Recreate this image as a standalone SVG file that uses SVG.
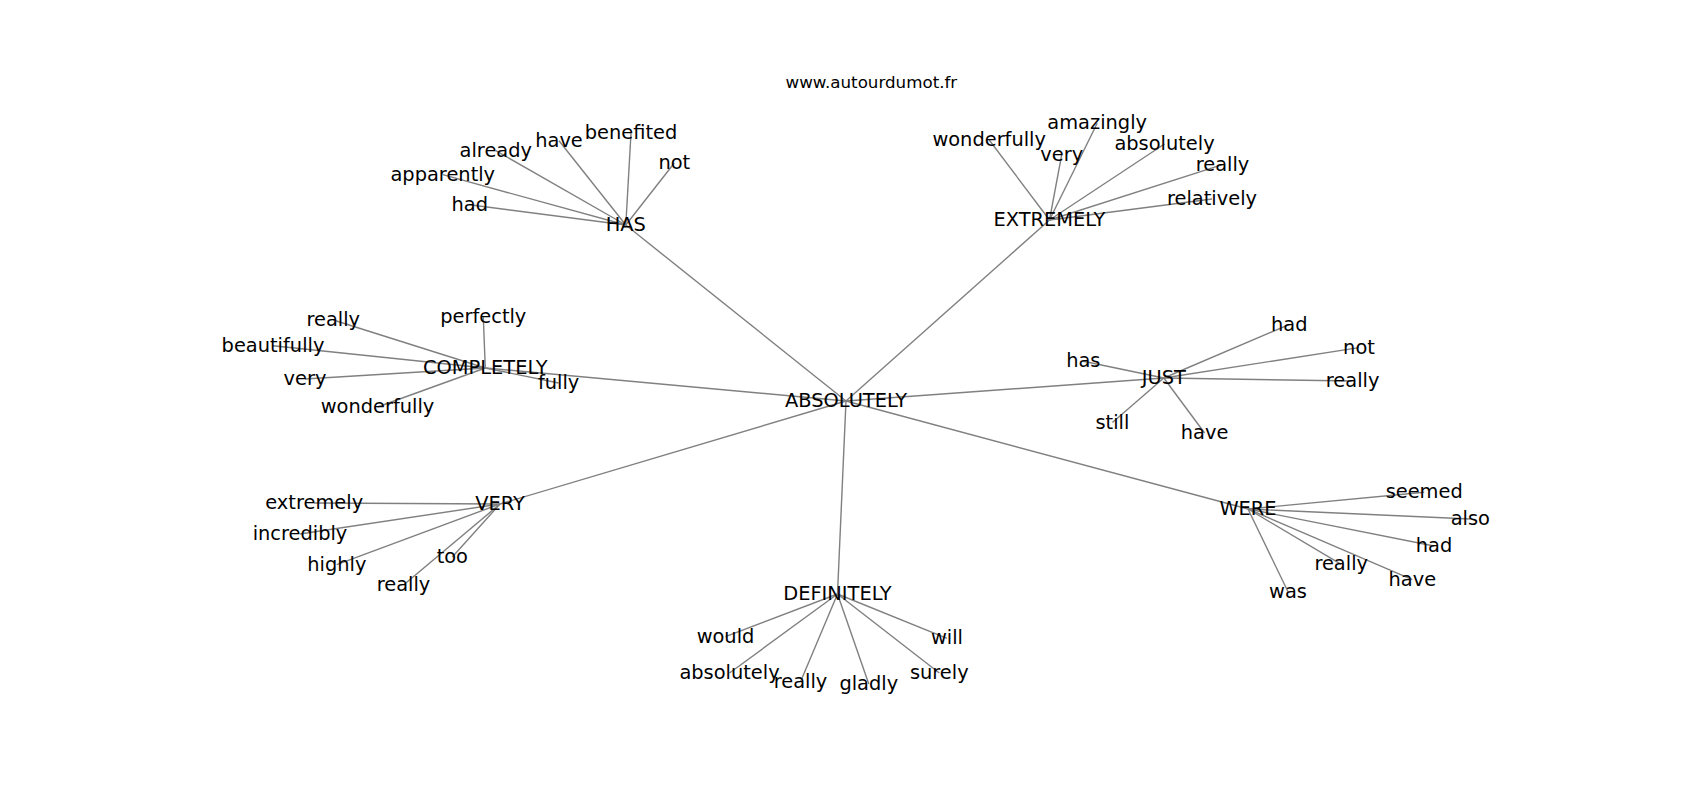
<svg xmlns="http://www.w3.org/2000/svg" width="1700" height="800" viewBox="0 0 1700 800">
<style>
text{font-family:"DejaVu Sans","Liberation Sans",sans-serif;fill:#000;text-anchor:middle}
.n{font-size:19.4px}
.t{font-size:16.7px}
#edges line{stroke:#808080;stroke-width:1.4}
</style>
<rect width="1700" height="800" fill="#fff"/>
<text class="t" x="871.4" y="88">www.autourdumot.fr</text>
<g id="edges">
<line x1="846" y1="401" x2="625.8" y2="225"/>
<line x1="846" y1="401" x2="1049.5" y2="220"/>
<line x1="846" y1="401" x2="485.3" y2="368"/>
<line x1="846" y1="401" x2="1163.8" y2="378"/>
<line x1="846" y1="401" x2="500" y2="504"/>
<line x1="846" y1="401" x2="1248" y2="509"/>
<line x1="846" y1="401" x2="837.5" y2="594"/>
<line x1="625.8" y1="225" x2="469.7" y2="204.7"/>
<line x1="625.8" y1="225" x2="442.8" y2="174.7"/>
<line x1="625.8" y1="225" x2="495.8" y2="150.7"/>
<line x1="625.8" y1="225" x2="559" y2="140.7"/>
<line x1="625.8" y1="225" x2="631" y2="133.3"/>
<line x1="625.8" y1="225" x2="674.3" y2="163"/>
<line x1="1049.5" y1="220" x2="989.2" y2="140"/>
<line x1="1049.5" y1="220" x2="1097.2" y2="123.3"/>
<line x1="1049.5" y1="220" x2="1061.7" y2="154.7"/>
<line x1="1049.5" y1="220" x2="1164.5" y2="144"/>
<line x1="1049.5" y1="220" x2="1222.5" y2="164.7"/>
<line x1="1049.5" y1="220" x2="1212" y2="199"/>
<line x1="485.3" y1="368" x2="333.3" y2="320"/>
<line x1="485.3" y1="368" x2="483.3" y2="317.3"/>
<line x1="485.3" y1="368" x2="273" y2="345.7"/>
<line x1="485.3" y1="368" x2="305" y2="379"/>
<line x1="485.3" y1="368" x2="558.6" y2="383"/>
<line x1="485.3" y1="368" x2="377.5" y2="407"/>
<line x1="1163.8" y1="378" x2="1083.3" y2="361.3"/>
<line x1="1163.8" y1="378" x2="1289.2" y2="324.5"/>
<line x1="1163.8" y1="378" x2="1359" y2="347.6"/>
<line x1="1163.8" y1="378" x2="1352.6" y2="381"/>
<line x1="1163.8" y1="378" x2="1112.4" y2="422.5"/>
<line x1="1163.8" y1="378" x2="1204.6" y2="433"/>
<line x1="500" y1="504" x2="314.2" y2="503"/>
<line x1="500" y1="504" x2="300" y2="534"/>
<line x1="500" y1="504" x2="336.8" y2="564.6"/>
<line x1="500" y1="504" x2="452.3" y2="557"/>
<line x1="500" y1="504" x2="403.5" y2="585"/>
<line x1="1248" y1="509" x2="1424.2" y2="492.3"/>
<line x1="1248" y1="509" x2="1470.3" y2="519"/>
<line x1="1248" y1="509" x2="1434" y2="546"/>
<line x1="1248" y1="509" x2="1341.2" y2="564.3"/>
<line x1="1248" y1="509" x2="1412.3" y2="579.7"/>
<line x1="1248" y1="509" x2="1288" y2="591.7"/>
<line x1="837.5" y1="594" x2="725.5" y2="636.7"/>
<line x1="837.5" y1="594" x2="947" y2="638.3"/>
<line x1="837.5" y1="594" x2="729.5" y2="673"/>
<line x1="837.5" y1="594" x2="800.5" y2="681.7"/>
<line x1="837.5" y1="594" x2="868.8" y2="684"/>
<line x1="837.5" y1="594" x2="939.3" y2="673"/>
</g>
<g id="absolutely"><text class="n" x="846" y="407">ABSOLUTELY</text></g>
<g id="has"><text class="n" x="625.8" y="231">HAS</text></g>
<g id="extremely"><text class="n" x="1049.5" y="226">EXTREMELY</text></g>
<g id="completely"><text class="n" x="485.3" y="374">COMPLETELY</text></g>
<g id="just"><text class="n" x="1163.8" y="384">JUST</text></g>
<g id="very"><text class="n" x="500" y="510">VERY</text></g>
<g id="were"><text class="n" x="1248" y="515">WERE</text></g>
<g id="definitely"><text class="n" x="837.5" y="600">DEFINITELY</text></g>
<g id="has-had"><text class="n" x="469.7" y="210.7">had</text></g>
<g id="has-apparently"><text class="n" x="442.8" y="180.7">apparently</text></g>
<g id="has-already"><text class="n" x="495.8" y="156.7">already</text></g>
<g id="has-have"><text class="n" x="559" y="146.7">have</text></g>
<g id="has-benefited"><text class="n" x="631" y="139.3">benefited</text></g>
<g id="has-not"><text class="n" x="674.3" y="169">not</text></g>
<g id="ext-wonderfully"><text class="n" x="989.2" y="146">wonderfully</text></g>
<g id="ext-amazingly"><text class="n" x="1097.2" y="129.3">amazingly</text></g>
<g id="ext-very"><text class="n" x="1061.7" y="160.7">very</text></g>
<g id="ext-absolutely"><text class="n" x="1164.5" y="150">absolutely</text></g>
<g id="ext-really"><text class="n" x="1222.5" y="170.7">really</text></g>
<g id="ext-relatively"><text class="n" x="1212" y="205">relatively</text></g>
<g id="com-really"><text class="n" x="333.3" y="326">really</text></g>
<g id="com-perfectly"><text class="n" x="483.3" y="323.3">perfectly</text></g>
<g id="com-beautifully"><text class="n" x="273" y="351.7">beautifully</text></g>
<g id="com-very"><text class="n" x="305" y="385">very</text></g>
<g id="com-fully"><text class="n" x="558.6" y="389">fully</text></g>
<g id="com-wonderfully"><text class="n" x="377.5" y="413">wonderfully</text></g>
<g id="just-has"><text class="n" x="1083.3" y="367.3">has</text></g>
<g id="just-had"><text class="n" x="1289.2" y="330.5">had</text></g>
<g id="just-not"><text class="n" x="1359" y="353.6">not</text></g>
<g id="just-really"><text class="n" x="1352.6" y="387">really</text></g>
<g id="just-still"><text class="n" x="1112.4" y="428.5">still</text></g>
<g id="just-have"><text class="n" x="1204.6" y="439">have</text></g>
<g id="very-extremely"><text class="n" x="314.2" y="509">extremely</text></g>
<g id="very-incredibly"><text class="n" x="300" y="540">incredibly</text></g>
<g id="very-highly"><text class="n" x="336.8" y="570.6">highly</text></g>
<g id="very-too"><text class="n" x="452.3" y="563">too</text></g>
<g id="very-really"><text class="n" x="403.5" y="591">really</text></g>
<g id="were-seemed"><text class="n" x="1424.2" y="498.3">seemed</text></g>
<g id="were-also"><text class="n" x="1470.3" y="525">also</text></g>
<g id="were-had"><text class="n" x="1434" y="552">had</text></g>
<g id="were-really"><text class="n" x="1341.2" y="570.3">really</text></g>
<g id="were-have"><text class="n" x="1412.3" y="585.7">have</text></g>
<g id="were-was"><text class="n" x="1288" y="597.7">was</text></g>
<g id="def-would"><text class="n" x="725.5" y="642.7">would</text></g>
<g id="def-will"><text class="n" x="947" y="644.3">will</text></g>
<g id="def-absolutely"><text class="n" x="729.5" y="679">absolutely</text></g>
<g id="def-really"><text class="n" x="800.5" y="687.7">really</text></g>
<g id="def-gladly"><text class="n" x="868.8" y="690">gladly</text></g>
<g id="def-surely"><text class="n" x="939.3" y="679">surely</text></g>
</svg>
